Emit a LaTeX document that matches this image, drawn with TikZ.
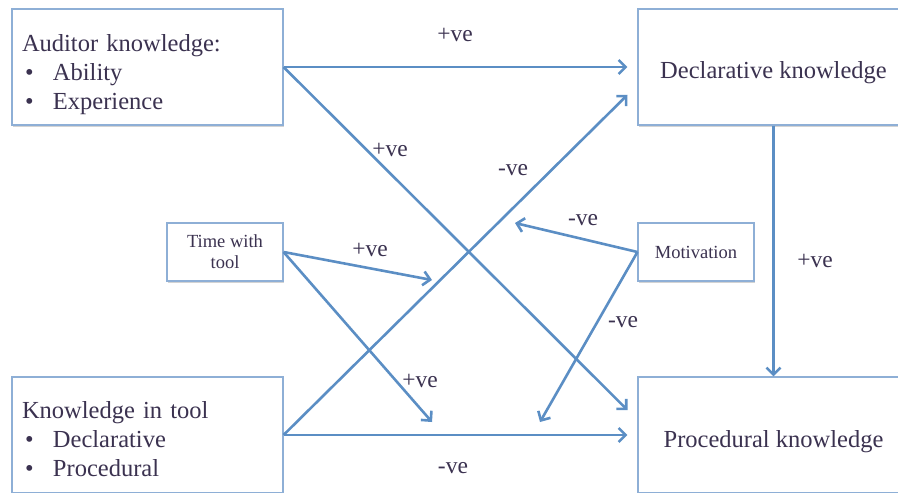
\documentclass[tikz,border=0pt]{standalone}
\usepackage{fontspec}
\setmainfont{Liberation Serif}
\usetikzlibrary{arrows.meta,positioning,shadows}
\definecolor{linkblue}{HTML}{5B8EC4}
\definecolor{boxblue}{HTML}{8EAFD6}
\definecolor{inkpurple}{HTML}{3B3250}

\begin{document}
\begin{tikzpicture}[
    x=1pt, y=-1pt,
    bigbox/.style={draw=boxblue, line width=1.1pt, fill=white, minimum width=271pt, minimum height=116pt,
        inner xsep=10pt, inner ysep=0pt, text=inkpurple, font=\fontsize{24.5}{29}\selectfont,
        drop shadow={opacity=0.35, shadow xshift=1pt, shadow yshift=-1.5pt}},
    listbox/.style={bigbox, text width=251pt, align=left},
    smallbox/.style={draw=boxblue, line width=1.1pt, fill=white, minimum width=116pt, minimum height=58pt,
        inner sep=2pt, align=center, text=inkpurple, font=\fontsize{18.5}{21}\selectfont,
        drop shadow={opacity=0.35, shadow xshift=1pt, shadow yshift=-1.5pt}},
    link/.style={-{Straight Barb[length=7pt, width=14pt]}, draw=linkblue, line width=2.6pt},
    sign/.style={text=inkpurple, font=\fontsize{23.5}{26}\selectfont}
]
\useasboundingbox (0,0) rectangle (898,493);

% Knowledge boxes
\node[listbox] (auditor) at (147.5,67) {\rule{0pt}{32pt}Auditor knowledge:\\
    \makebox[31pt][l]{\hspace{3pt}\textbullet}Ability\\
    \makebox[31pt][l]{\hspace{3pt}\textbullet}Experience};
\node[listbox] (tool) at (147.5,435) {\rule{0pt}{26pt}Knowledge in tool\\
    \makebox[31pt][l]{\hspace{3pt}\textbullet}Declarative\\
    \makebox[31pt][l]{\hspace{3pt}\textbullet}Procedural};
\node[bigbox] (declarative) at (773.5,67) {\rule{0pt}{28pt}Declarative knowledge};
\node[bigbox] (procedural) at (773.5,435) {\rule{0pt}{30pt}Procedural knowledge};

% Moderators
\node[smallbox] (time) at (225,252) {Time with\\tool};
\node[smallbox] (motivation) at (696,252) {Motivation};

% Free arrow ends
\coordinate (timeA) at (432,280);
\coordinate (timeB) at (432,422);
\coordinate (motA) at (515,223);
\coordinate (motB) at (540,422);

% Arrows
\draw[link, shorten >=10pt] (auditor.east) -- (declarative.west);
\draw[link, shorten >=14pt] (auditor.east) -- ([yshift=15pt]procedural.west);
\draw[link, shorten >=14pt] (tool.east) -- ([yshift=-18pt]declarative.west);
\draw[link, shorten >=10pt] (tool.east) -- (procedural.west);
\draw[link] (declarative.south) -- (procedural.north);
\draw[link] (time.east) -- (timeA);
\draw[link] (time.east) -- (timeB);
\draw[link] (motivation.west) -- (motA);
\draw[link] (motivation.west) -- (motB);

% Signs
\node[sign] (s1) at (455,35) {+ve};
\node[sign] (s2) at (390,150) {+ve};
\node[sign] (s3) at (513,170) {-ve};
\node[sign] (s4) at (370,250) {+ve};
\node[sign] (s5) at (420,381) {+ve};
\node[sign] (s6) at (583,220) {-ve};
\node[sign] (s7) at (623,322) {-ve};
\node[sign] (s8) at (815,261) {+ve};
\node[sign] (s9) at (453,468) {-ve};

\end{tikzpicture}
\end{document}
